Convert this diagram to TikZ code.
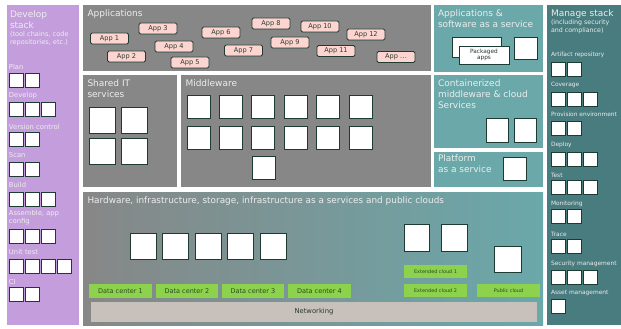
\documentclass[tikz,border=0pt]{standalone}
\usepackage{fontspec}
\setmainfont{DejaVu Sans}
\usetikzlibrary{shadows}
\definecolor{devpurple}{HTML}{C49EDC}
\definecolor{panelgray}{HTML}{878787}
\definecolor{panelteal}{HTML}{6AA8AA}
\definecolor{managecol}{HTML}{487C7E}
\definecolor{pinkc}{HTML}{FDD5D0}
\definecolor{greenc}{HTML}{8CD24C}
\definecolor{netcol}{HTML}{C8C0BB}
\definecolor{boxline}{HTML}{1D3B30}
\definecolor{titlecol}{HTML}{EDEDED}
\definecolor{darktext}{HTML}{2A3A30}
\definecolor{greentext}{HTML}{2D4A22}
\begin{document}
\begin{tikzpicture}[x=1pt,y=-1pt,
  panel/.style={anchor=north west, inner sep=0, outer sep=0, draw=none},
  ptitle/.style={anchor=north west, inner sep=0, outer sep=0, align=left, text=titlecol, font=\fontsize{9}{11}\selectfont},
  psub/.style={anchor=north west, inner sep=0, outer sep=0, align=left, text=titlecol, font=\fontsize{6.6}{8}\selectfont},
  itemlabel/.style={anchor=west, inner sep=0, outer sep=0, text=titlecol, font=\fontsize{6.8}{7}\selectfont},
  manlabel/.style={itemlabel, font=\fontsize{5.9}{7}\selectfont},
  wbox/.style={draw=boxline, fill=white, line width=0.9pt, inner sep=0, outer sep=0, anchor=north west,
    drop shadow={shadow xshift=0.8pt, shadow yshift=-0.8pt, opacity=0.35}},
  appbox/.style={draw=boxline, fill=pinkc, line width=0.8pt, rounded corners=1.5pt, minimum width=38pt, minimum height=11pt, inner sep=0, text=darktext, font=\fontsize{6.6}{7}\selectfont},
  gbar/.style={fill=greenc, inner sep=0, outer sep=0, anchor=north west, text=greentext, font=\fontsize{6.5}{7}\selectfont},
  gbarsmall/.style={gbar, font=\fontsize{4.9}{6}\selectfont}
]
\useasboundingbox (0,0) rectangle (621,329);
\fill[white] (0,0) rectangle (621,329);

% ---------- panels ----------
\node[panel, fill=devpurple, minimum width=72pt, minimum height=320pt] (dev) at (7,5) {};
\node[panel, fill=panelgray, minimum width=348pt, minimum height=66pt] (apps) at (83,5) {};
\node[panel, fill=panelgray, minimum width=94pt, minimum height=112pt] (shared) at (83,75) {};
\node[panel, fill=panelgray, minimum width=250pt, minimum height=112pt] (mid) at (181,75) {};
\node[panel, left color=panelgray, right color=panelteal, minimum width=460pt, minimum height=133pt] (hw) at (83,192) {};
\node[panel, fill=panelteal, minimum width=109pt, minimum height=67pt] (saas) at (434,5) {};
\node[panel, fill=panelteal, minimum width=109pt, minimum height=73pt] (cont) at (434,75) {};
\node[panel, fill=panelteal, minimum width=109pt, minimum height=35pt] (paas) at (434,152) {};
\node[panel, fill=managecol, minimum width=74pt, minimum height=320pt] (manage) at (547,5) {};

% ---------- develop stack ----------
\node[ptitle] (devt) at (10,10.5) {Develop\\stack};
\node[psub] (devs) at (10,31) {(tool chains, code\\repositories, etc.)};
\foreach \lab/\ly/\by/\n [count=\k] in {Plan/67/73/2, Develop/96/102/3, Version control/127/132/2, Scan/155/162/2, Build/185/192/3, Unit test/252/259/4, CI/282/287/2}{
  \node[itemlabel] (devl\k) at (9,\ly) {\lab};
  \foreach \i in {1,...,\n}{
    \node[wbox, minimum width=14pt, minimum height=14pt] (devb\k-\i) at ({9+16*(\i-1)},\by) {};
  }
}
\node[itemlabel, anchor=north west, align=left, font=\fontsize{6.8}{8}\selectfont] (devlasm) at (9,210) {Assemble, app\\config};
\foreach \i in {1,...,3}{
  \node[wbox, minimum width=14pt, minimum height=14pt] (devasm\i) at ({9+16*(\i-1)},229) {};
}

% ---------- applications ----------
\node[ptitle] (appst) at (87.5,9.5) {Applications};
\foreach \lab/\cx/\cy [count=\k] in {App 1/109.5/38.5, App 2/126.5/56.5, App 3/158/28.5, App 4/174/46.5, App 5/190/62.5, App 6/221/32.5, App 7/243.5/50.5, App 8/271/23.5, App 9/290/42.5, App 10/320/26.5, App 11/336/51, App 12/366/34.5}{
  \node[appbox] (app\k) at (\cx,\cy) {\lab};
}
\node[appbox] (appmore) at (396,57) {App .\kern0.3pt.\kern0.3pt.};

% ---------- shared IT services ----------
\node[ptitle] (sharedt) at (87.5,79.5) {Shared IT\\services};
\foreach \xx/\yy [count=\k] in {89/107, 121/107, 89/138, 121/138}{
  \node[wbox, minimum width=26pt, minimum height=26pt] (sh\k) at (\xx,\yy) {};
}

% ---------- middleware ----------
\node[ptitle] (midt) at (185.5,79.5) {Middleware};
\foreach \c in {0,1,2,3,4,5}{
  \node[wbox, minimum width=23pt, minimum height=23pt] (mwa\c) at ({187+32.4*\c},95) {};
  \node[wbox, minimum width=23pt, minimum height=23pt] (mwb\c) at ({187+32.4*\c},126) {};
}
\node[wbox, minimum width=23pt, minimum height=23pt] (mwc) at (252,156) {};

% ---------- SaaS ----------
\node[ptitle] (saast) at (438,9.5) {Applications \&\\software as a service};
\node[wbox, minimum width=49pt, minimum height=20pt] (pkgback) at (452,37) {};
\node[wbox, minimum width=50pt, minimum height=18pt, align=center, text=darktext, font=\fontsize{5.8}{6.6}\selectfont] (pkgfront) at (459,46) {Packaged\\apps};
\node[wbox, minimum width=23pt, minimum height=22pt] (saasb) at (514,37) {};

% ---------- containerized ----------
\node[ptitle] (contt) at (438,79.5) {Containerized\\middleware \& cloud\\Services};
\node[wbox, minimum width=22pt, minimum height=24pt] (contb1) at (486,118) {};
\node[wbox, minimum width=22pt, minimum height=24pt] (contb2) at (514,118) {};

% ---------- platform ----------
\node[ptitle] (paast) at (438,155) {Platform\\as a service};
\node[wbox, minimum width=23pt, minimum height=23pt] (paasb) at (503,157) {};

% ---------- hardware ----------
\node[ptitle, font=\fontsize{8.9}{11}\selectfont] (hwt) at (87.5,197) {Hardware, infrastructure, storage, infrastructure as a services and public clouds};
\foreach \c in {0,1,2,3,4}{
  \node[wbox, minimum width=26pt, minimum height=26pt] (hwb\c) at ({130+32.5*\c},233) {};
}
\node[wbox, minimum width=25pt, minimum height=27pt] (ext1b) at (404,224) {};
\node[wbox, minimum width=26pt, minimum height=27pt] (ext2b) at (441,224) {};
\node[wbox, minimum width=27pt, minimum height=26pt] (pubb) at (494,246) {};
\node[gbar, minimum width=63pt, minimum height=14pt] (dc1) at (89,284) {Data center 1};
\node[gbar, minimum width=62pt, minimum height=14pt] (dc2) at (156,284) {Data center 2};
\node[gbar, minimum width=62pt, minimum height=14pt] (dc3) at (222,284) {Data center 3};
\node[gbar, minimum width=63pt, minimum height=14pt] (dc4) at (288,284) {Data center 4};
\node[gbarsmall, minimum width=63pt, minimum height=13pt] (ec1) at (404,265) {Extended cloud 1};
\node[gbarsmall, minimum width=63pt, minimum height=13pt] (ec2) at (404,284) {Extended cloud 2};
\node[gbarsmall, minimum width=63pt, minimum height=13pt] (pc) at (477,284) {Public cloud};
\node[panel, fill=netcol, minimum width=446pt, minimum height=20pt, text=darktext, font=\fontsize{6.8}{7}\selectfont] (net) at (91,302) {Networking};

% ---------- manage stack ----------
\node[ptitle] (mant) at (551,9.5) {Manage stack};
\node[psub, font=\fontsize{6.3}{8}\selectfont] (mans) at (551,19.5) {(including security\\and compliance)};
\foreach \lab/\ly/\by/\n [count=\k] in {Artifact repository/55/62/2, Coverage/85/92/3, Provision environment/114/121/2, Deploy/145/152/3, Test/175/180/3, Monitoring/204/209/2, Trace/234/239/2, Security management/264/270/3, Asset management/293/299/1}{
  \node[manlabel] (manl\k) at (551,\ly) {\lab};
  \foreach \i in {1,...,\n}{
    \node[wbox, minimum width=14pt, minimum height=14pt] (manb\k-\i) at ({551+16*(\i-1)},\by) {};
  }
}
\end{tikzpicture}
\end{document}
